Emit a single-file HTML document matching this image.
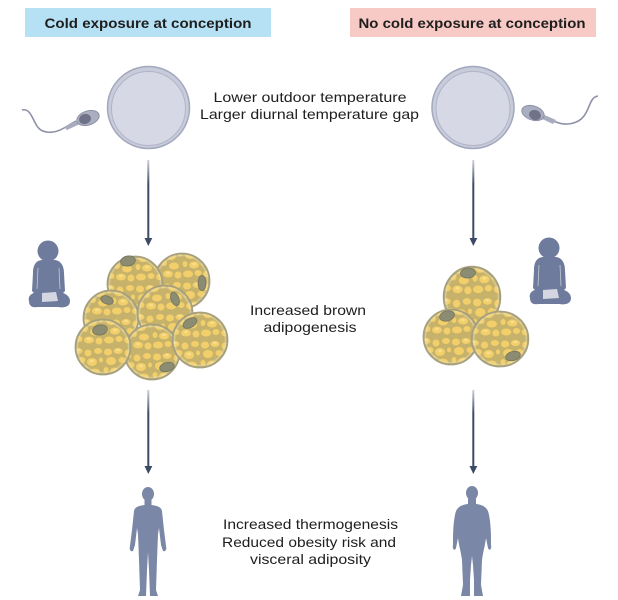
<!DOCTYPE html>
<html><head><meta charset="utf-8"><style>
html,body{margin:0;padding:0;background:#fff;}
svg{display:block;}
text{font-family:"Liberation Sans",sans-serif;fill:#1e1e1e;}
</style></head><body>
<svg width="618" height="600" viewBox="0 0 618 600" xmlns="http://www.w3.org/2000/svg">
<defs>
<pattern id="fat" width="40" height="40" patternUnits="userSpaceOnUse">
<rect width="40" height="40" fill="#c6b26a"/>
<g fill="#f2cf6a">
<ellipse cx="5" cy="5" rx="4" ry="3.5"/><ellipse cx="15" cy="4" rx="4.5" ry="3"/><ellipse cx="25" cy="6" rx="3.5" ry="3.5"/><ellipse cx="35" cy="4" rx="4" ry="3"/>
<ellipse cx="8" cy="14" rx="5" ry="4"/><ellipse cx="19" cy="13" rx="3.5" ry="3"/><ellipse cx="29" cy="15" rx="5" ry="4"/><ellipse cx="38" cy="13" rx="2" ry="2.5"/>
<ellipse cx="3" cy="23" rx="2.5" ry="3"/><ellipse cx="12" cy="24" rx="5" ry="3.5"/><ellipse cx="22" cy="22" rx="3" ry="3"/><ellipse cx="32" cy="25" rx="5" ry="3.5"/>
<ellipse cx="6" cy="33" rx="5" ry="3.5"/><ellipse cx="16" cy="32" rx="3.5" ry="3"/><ellipse cx="26" cy="33" rx="5" ry="3.5"/><ellipse cx="36" cy="34" rx="3.5" ry="3.5"/>
</g>
<g fill="#f8de8c">
<ellipse cx="15" cy="3" rx="2" ry="1.2"/><ellipse cx="29" cy="14" rx="2" ry="1.5"/><ellipse cx="12" cy="23" rx="2" ry="1.2"/><ellipse cx="26" cy="32" rx="2" ry="1.2"/>
</g>
</pattern>
<linearGradient id="ar" x1="0" y1="0" x2="0" y2="1">
<stop offset="0" stop-color="#3d4a66" stop-opacity="0.25"/><stop offset="0.3" stop-color="#3d4a66"/><stop offset="1" stop-color="#3d4a66"/>
</linearGradient>
<g id="cell"><circle r="27.5" fill="url(#fat)"/><circle r="27.5" fill="none" stroke="#a6a07e" stroke-width="1.8"/><circle r="25.5" fill="none" stroke="#e9e3c0" stroke-opacity="0.45" stroke-width="1.5"/></g>
<g id="baby" fill="#6f7b9c">
<ellipse cx="0" cy="0" rx="10.5" ry="10.5"/>
<path d="M-5,9 C-12,9 -15,14 -15,22 L-16,40 L-13,43 L14,43 L17,40 L16,22 C16,14 12,9 6,9 Z"/>
<path d="M-19,50 C-21,43 -12,39 0,41 C12,39 22,43 22,50 C22,56 16,57 10,56 L-10,56 C-16,57 -19,55 -19,50 Z"/>
<path d="M-6,42 L8,41 L10,50 L-6,51 Z" fill="#fff" opacity="0.7"/>
<path d="M-10,17 L-11,38 M11,17 L12,38" stroke="#fff" stroke-width="0.8" opacity="0.6" fill="none"/>
</g>
</defs>

<!-- headers -->
<rect x="25" y="8" width="246" height="29" fill="#b6e1f5"/>
<text x="148" y="28" text-anchor="middle" font-size="14" font-weight="bold" textLength="207" lengthAdjust="spacingAndGlyphs">Cold exposure at conception</text>
<rect x="350" y="8" width="246" height="29" fill="#f8cac5"/>
<text x="472" y="28" text-anchor="middle" font-size="14" font-weight="bold" textLength="227" lengthAdjust="spacingAndGlyphs">No cold exposure at conception</text>

<!-- eggs -->
<g>
<circle cx="148.5" cy="107.5" r="41" fill="#c7cbda" stroke="#a3a8bd" stroke-width="1.5"/>
<circle cx="148.5" cy="108.5" r="37" fill="#d6d9e5" stroke="#b0b4c7" stroke-width="1"/>
<circle cx="473" cy="107.5" r="41" fill="#c7cbda" stroke="#a3a8bd" stroke-width="1.5"/>
<circle cx="473" cy="108.5" r="37" fill="#d6d9e5" stroke="#b0b4c7" stroke-width="1"/>
</g>
<!-- sperm left -->
<path d="M22,110 C30,108 32,118 37,126 C42,134 54,134 64,128 L76,121" fill="none" stroke="#8d92a6" stroke-width="1.6"/>
<path d="M64,127 L78,120 L80,124 L67,130 Z" fill="#a7acbe"/>
<ellipse cx="88" cy="118" rx="11.5" ry="7" transform="rotate(-18 88 118)" fill="#a9aec0" stroke="#8d92a6" stroke-width="1"/>
<ellipse cx="85" cy="119" rx="6" ry="5" transform="rotate(-18 85 119)" fill="#6e7388"/>
<!-- sperm right -->
<path d="M598,96 C590,97 590,108 584,116 C578,124 566,126 556,122 L544,118" fill="none" stroke="#8d92a6" stroke-width="1.6"/>
<path d="M556,120 L542,114 L540,118 L553,124 Z" fill="#a7acbe"/>
<ellipse cx="533" cy="113" rx="11.5" ry="7" transform="rotate(18 533 113)" fill="#a9aec0" stroke="#8d92a6" stroke-width="1"/>
<ellipse cx="535" cy="115" rx="6" ry="5" transform="rotate(18 535 115)" fill="#6e7388"/>

<text x="310" y="102" text-anchor="middle" font-size="14" textLength="193" lengthAdjust="spacingAndGlyphs">Lower outdoor temperature</text>
<text x="309.5" y="119" text-anchor="middle" font-size="14" textLength="219" lengthAdjust="spacingAndGlyphs">Larger diurnal temperature gap</text>

<!-- arrows -->
<g>
<rect x="147.3" y="160" width="2" height="80" fill="url(#ar)"/>
<path d="M144.5,238 L152.3,238 L148.3,246 Z" fill="#3d4a66"/>
<rect x="472.3" y="160" width="2" height="80" fill="url(#ar)"/>
<path d="M469.5,238 L477.3,238 L473.3,246 Z" fill="#3d4a66"/>
<rect x="147.3" y="390" width="2" height="77" fill="url(#ar)"/>
<path d="M144.5,466 L152.3,466 L148.3,474 Z" fill="#3d4a66"/>
<rect x="472.3" y="390" width="2" height="77" fill="url(#ar)"/>
<path d="M469.5,466 L477.3,466 L473.3,474 Z" fill="#3d4a66"/>
</g>

<!-- babies -->
<use href="#baby" x="48" y="251"/>
<use href="#baby" x="549" y="248"/>

<!-- left cluster -->
<g>
<use href="#cell" x="182" y="281"/>
<use href="#cell" x="135" y="284"/>
<use href="#cell" x="111" y="318"/>
<use href="#cell" x="165" y="313"/>
<use href="#cell" x="152" y="352"/>
<use href="#cell" x="103" y="347"/>
<use href="#cell" x="200" y="340"/>
<g fill="#8c8c72" stroke="#74745c" stroke-width="0.8">
<ellipse cx="128" cy="261" rx="7.5" ry="5" transform="rotate(-10 128 261)"/>
<ellipse cx="202" cy="283" rx="4" ry="7.5"/>
<ellipse cx="175" cy="299" rx="4" ry="7" transform="rotate(-20 175 299)"/>
<ellipse cx="107" cy="300" rx="6.5" ry="4" transform="rotate(20 107 300)"/>
<ellipse cx="190" cy="323" rx="7.5" ry="4.5" transform="rotate(-30 190 323)"/>
<ellipse cx="100" cy="330" rx="7.5" ry="5" transform="rotate(-10 100 330)"/>
<ellipse cx="167" cy="367" rx="7.5" ry="4.5" transform="rotate(-15 167 367)"/>
</g>
</g>
<!-- right cluster -->
<g>
<g transform="translate(472 297) scale(1.03 1.1)"><use href="#cell"/></g>
<use href="#cell" x="451" y="337"/>
<g transform="translate(500 339) scale(1.03 1)"><use href="#cell"/></g>
<g fill="#8c8c72" stroke="#74745c" stroke-width="0.8">
<ellipse cx="468" cy="273" rx="7.5" ry="5" transform="rotate(-5 468 273)"/>
<ellipse cx="447" cy="316" rx="7.5" ry="5" transform="rotate(-15 447 316)"/>
<ellipse cx="513" cy="356" rx="7.5" ry="4.5" transform="rotate(-15 513 356)"/>
</g>
</g>

<text x="308" y="315" text-anchor="middle" font-size="14" textLength="116" lengthAdjust="spacingAndGlyphs">Increased brown</text>
<text x="310" y="332" text-anchor="middle" font-size="14" textLength="93" lengthAdjust="spacingAndGlyphs">adipogenesis</text>

<!-- humans -->
<g fill="#7b87a6">
<ellipse cx="148" cy="494" rx="6" ry="7"/>
<path d="M144.5,499 L144.5,505 C138,506 135,507 134,511 L132,530 L130,546 C129,550 131,552 133,551 L135,545 L137,528 L138,534 L139,560 L140,590 L138,596 L146,596 L147,570 L148,552 L149,570 L150,596 L158,596 L156,590 L157,560 L158,534 L159,528 L161,545 L163,551 C165,552 167,550 166,546 L164,530 L162,511 C161,507 158,506 151.5,505 L151.5,499 Z"/>
<ellipse cx="472" cy="493" rx="6" ry="7"/>
<path d="M468,498 L468,504 C460,505 456,508 455,515 C453,525 453,535 453,545 C452,550 455,551 456,548 L458,538 C459,546 461,552 462,560 L463,585 L461,596 L470,596 L470,580 L471,565 L472,556 L473,565 L474,580 L474,596 L483,596 L481,585 L482,560 C483,552 485,546 486,538 L488,548 C489,551 492,550 491,545 C491,535 491,525 489,515 C488,508 484,505 476,504 L476,498 Z"/>
</g>

<text x="310.5" y="529" text-anchor="middle" font-size="14" textLength="175" lengthAdjust="spacingAndGlyphs">Increased thermogenesis</text>
<text x="309" y="547" text-anchor="middle" font-size="14" textLength="174" lengthAdjust="spacingAndGlyphs">Reduced obesity risk and</text>
<text x="310.5" y="564" text-anchor="middle" font-size="14" textLength="121" lengthAdjust="spacingAndGlyphs">visceral adiposity</text>
</svg>
</body></html>
